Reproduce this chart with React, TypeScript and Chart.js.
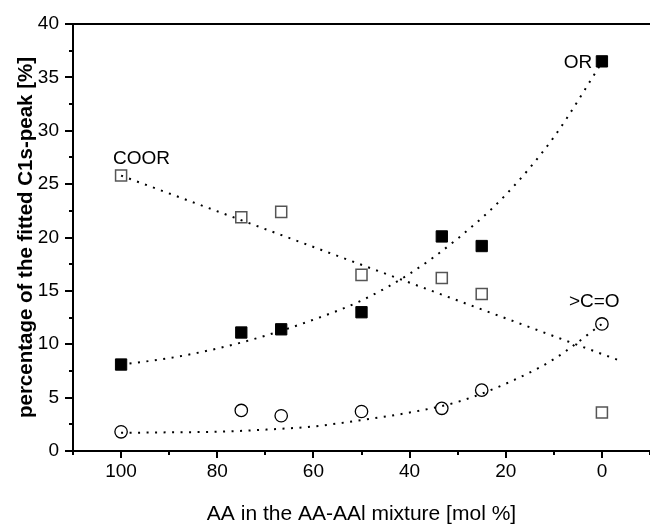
import React, { useEffect, useRef } from "react";
import { Chart, registerables } from "chart.js";

Chart.register(...registerables);

// ---- data ----
const xValues = [100, 75, 66.7, 50, 33.3, 25, 0];
const orValues = [8.1, 11.1, 11.4, 13.0, 20.1, 19.2, 36.5];
const coorValues = [25.8, 21.9, 22.4, 16.5, 16.2, 14.7, 3.6];
const coValues = [1.8, 3.8, 3.3, 3.7, 4.0, 5.7, 11.9];

// dotted fit curves
const fitX = [100, 90, 80, 70, 60, 50, 40, 30, 20, 10, 0];
const orFit = [8.1, 8.7, 9.6, 10.8, 12.3, 14.1, 16.6, 19.9, 24.0, 29.4, 36.4];
const coFit = [1.7, 1.75, 1.8, 2.0, 2.3, 2.9, 3.6, 4.6, 6.3, 8.6, 11.9];
const coorFitX = [100, -3.5];
const coorFit = [25.8, 8.5];

// tick labels
const xTickLabels = [100, 80, 60, 40, 20, 0];
const yTickLabels = [0, 5, 10, 15, 20, 25, 30, 35, 40];

// series labels
const seriesLabels = ["COOR", "OR", ">C=O"];

const xTitle = "AA in the AA-AAl mixture [mol %]";
const yTitle = "percentage of the fitted C1s-peak [%]";

const FONT = '"Liberation Sans", Arial, Helvetica, sans-serif';

// where the series labels sit (data coordinates) and how they are aligned
const labelPlacement = [
  { x: 101.7, y: 26.9, align: "left" },
  { x: 2.0, y: 35.9, align: "right" },
  { x: 1.6, y: 13.5, align: "center" },
];

const pts = (xs: number[], ys: number[]) => xs.map((x, i) => ({ x, y: ys[i] }));

const decorPlugin = {
  id: "decor",
  afterDraw(chart: any) {
    const { ctx, chartArea, scales } = chart;
    const xs = scales.x;
    const ys = scales.y;
    ctx.save();
    ctx.strokeStyle = "#000";
    ctx.lineWidth = 2;
    ctx.lineCap = "butt";
    // top frame line
    ctx.beginPath();
    ctx.moveTo(chartArea.left - 1, chartArea.top);
    ctx.lineTo(chartArea.right + 2, chartArea.top);
    ctx.stroke();
    // x tick marks (outside, downwards)
    xs.ticks.forEach((t: any) => {
      const px = Math.round(xs.getPixelForValue(t.value));
      const major = xTickLabels.includes(t.value);
      const len = major ? 7 : 4;
      ctx.beginPath();
      ctx.moveTo(px, chartArea.bottom);
      ctx.lineTo(px, chartArea.bottom + len);
      ctx.stroke();
    });
    // y tick marks (outside, leftwards)
    ys.ticks.forEach((t: any) => {
      const py = Math.round(ys.getPixelForValue(t.value));
      const major = yTickLabels.includes(t.value);
      const len = major ? 8 : 4;
      ctx.beginPath();
      ctx.moveTo(chartArea.left, py);
      ctx.lineTo(chartArea.left - len, py);
      ctx.stroke();
    });
    // series labels
    ctx.fillStyle = "#000";
    ctx.font = `19px ${FONT}`;
    ctx.textBaseline = "alphabetic";
    seriesLabels.forEach((txt, i) => {
      const p = labelPlacement[i];
      ctx.textAlign = p.align as CanvasTextAlign;
      ctx.fillText(txt, xs.getPixelForValue(p.x), ys.getPixelForValue(p.y));
    });
    ctx.restore();
  },
};

export default function App() {
  const ref = useRef<HTMLCanvasElement | null>(null);

  useEffect(() => {
    document.body.style.margin = "0";
    document.body.style.overflow = "hidden";
    const canvas = ref.current;
    if (!canvas) return;
    const tickFont = { family: FONT, size: 19 };
    const dotted = {
      showLine: true,
      pointRadius: 0,
      pointHoverRadius: 0,
      borderColor: "#000",
      borderWidth: 2,
      borderDash: [2, 6.5],
      borderCapStyle: "butt",
      cubicInterpolationMode: "monotone",
      fill: false,
    };
    const chart = new Chart(canvas, {
      type: "scatter",
      data: {
        datasets: [
          {
            label: "OR",
            data: pts(xValues, orValues),
            pointStyle: "rect",
            pointRadius: 8,
            backgroundColor: "#000",
            borderColor: "#000",
            borderWidth: 1,
          },
          {
            label: "COOR",
            data: pts(xValues, coorValues),
            pointStyle: "rect",
            pointRadius: 7.8,
            backgroundColor: "rgba(0,0,0,0)",
            borderColor: "#555",
            borderWidth: 1.5,
          },
          {
            label: ">C=O",
            data: pts(xValues, coValues),
            pointStyle: "circle",
            pointRadius: 6.2,
            backgroundColor: "rgba(0,0,0,0)",
            borderColor: "#000",
            borderWidth: 1.3,
          },
          { label: "OR fit", data: pts(fitX, orFit), ...dotted },
          { label: "COOR fit", data: pts(coorFitX, coorFit), ...dotted },
          { label: ">C=O fit", data: pts(fitX, coFit), ...dotted },
        ] as any,
      },
      options: {
        responsive: false,
        animation: false,
        devicePixelRatio: 1,
        events: [],
        layout: {
          autoPadding: false,
          padding: { left: 0, top: 24, right: 0, bottom: 0 },
        },
        plugins: {
          legend: { display: false },
          tooltip: { enabled: false },
          title: { display: false },
        },
        scales: {
          x: {
            type: "linear",
            reverse: true,
            min: -10,
            max: 110,
            afterFit: (s: any) => {
              s.height = 74;
            },
            border: { display: true, color: "#000", width: 2 },
            grid: {
              display: true,
              drawOnChartArea: false,
              drawTicks: true,
              tickLength: 7,
              tickColor: "rgba(0,0,0,0)",
            },
            ticks: {
              stepSize: 10,
              autoSkip: false,
              maxRotation: 0,
              minRotation: 0,
              padding: 2,
              color: "#000",
              font: tickFont,
              callback: (v: any) => (xTickLabels.includes(v) ? String(v) : ""),
            },
            title: {
              display: true,
              text: xTitle,
              color: "#000",
              font: { family: FONT, size: 21, lineHeight: 1 },
              padding: { top: 0, bottom: 0 },
            },
          },
          y: {
            type: "linear",
            min: 0,
            max: 40,
            afterFit: (s: any) => {
              s.width = 73;
            },
            border: { display: true, color: "#000", width: 2 },
            grid: {
              display: true,
              drawOnChartArea: false,
              drawTicks: true,
              tickLength: 8,
              tickColor: "rgba(0,0,0,0)",
            },
            ticks: {
              stepSize: 2.5,
              autoSkip: false,
              padding: 6,
              color: "#000",
              font: tickFont,
              callback: (v: any) => (yTickLabels.includes(v) ? String(v) : ""),
            },
            title: {
              display: true,
              text: yTitle,
              color: "#000",
              font: { family: FONT, size: 20.5, weight: "bold", lineHeight: 1 },
              padding: { top: 15.6, bottom: 0 },
            },
          },
        },
      } as any,
      plugins: [decorPlugin],
    });
    return () => chart.destroy();
  }, []);

  return (
    <div style={{ width: 650, height: 525, overflow: "hidden" }}>
      <canvas
        ref={ref}
        width={652}
        height={525}
        style={{ display: "block", width: 652, height: 525 }}
      />
    </div>
  );
}
